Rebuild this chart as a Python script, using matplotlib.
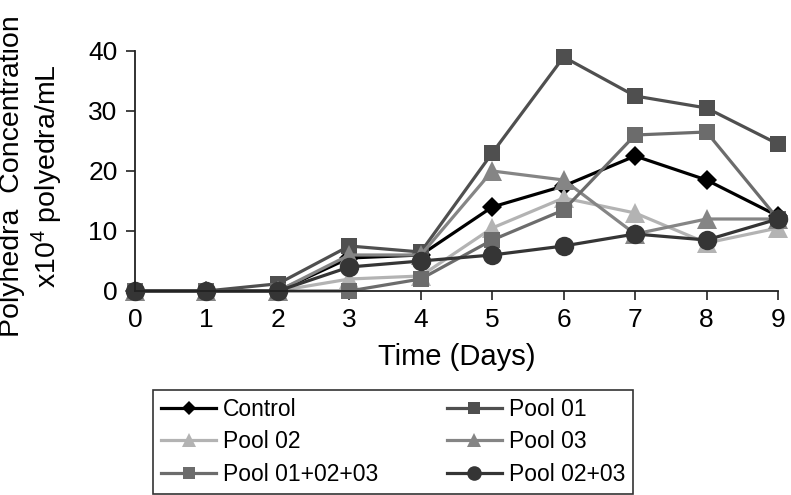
import matplotlib.pyplot as plt

plt.rcParams["font.family"] = ["Liberation Sans", "DejaVu Sans"]
plt.rcParams["mathtext.fontset"] = "custom"
plt.rcParams["mathtext.rm"] = "Liberation Sans"

days = [0, 1, 2, 3, 4, 5, 6, 7, 8, 9]

control = [0, 0, 0, 5.5, 6, 14, 17.5, 22.5, 18.5, 12.5]
pool_01 = [0, 0, 1.2, 7.5, 6.5, 23, 39, 32.5, 30.5, 24.5]
pool_02 = [0, 0, 0, 2, 2.5, 10.5, 15.5, 13, 8, 10.5]
pool_03 = [0, 0, 0, 6, 6, 20, 18.5, 9.5, 12, 12]
pool_all = [0, 0, 0, 0, 2, 8.5, 13.5, 26, 26.5, 12]
pool_02_03 = [0, 0, 0, 4, 5, 6, 7.5, 9.5, 8.5, 12]

series = [
    ("Control", control, "#000000", "D", 10),
    ("Pool 01", pool_01, "#4f4f4f", "s", 12),
    ("Pool 02", pool_02, "#b3b3b3", "^", 14),
    ("Pool 03", pool_03, "#858585", "^", 14),
    ("Pool 01+02+03", pool_all, "#6c6c6c", "s", 12),
    ("Pool 02+03", pool_02_03, "#353535", "o", 14),
]

fig = plt.figure(figsize=(7.91, 4.95), dpi=100)
ax = fig.add_axes([135 / 791, 1 - 291 / 495, 643 / 791, 240 / 495])

lines = []
for name, vals, col, mk, ms in series:
    ln, = ax.plot(days, vals, color=col, marker=mk, markersize=ms, linewidth=2.3,
                  markeredgewidth=0, label=name, clip_on=False)
    lines.append(ln)

ax.set_xlim(0, 9)
ax.set_ylim(0, 40)
ax.set_xticks(days)
ax.set_yticks([0, 10, 20, 30, 40])
ax.spines["top"].set_visible(False)
ax.spines["right"].set_visible(False)
for s in ("left", "bottom"):
    ax.spines[s].set_linewidth(1.3)
    ax.spines[s].set_color("#222222")
ax.tick_params(axis="both", direction="out", length=6.5, width=1.2,
               color="#222222", labelsize=19, pad=6)
ax.set_xlabel("Time (Days)", fontsize=21, labelpad=8)

fig.text(32 / 791, 1 - 176 / 495,
         "Polyhedra  Concentration\nx10$\\mathregular{^4}$ polyedra/mL",
         rotation=90, ha="center", va="center", fontsize=20.5,
         multialignment="center", linespacing=1.15)

# row-wise order like the original legend
order = [0, 2, 4, 1, 3, 5]
leg = fig.legend([lines[i] for i in order], [series[i][0] for i in order],
                 loc="lower left", bbox_to_anchor=(153 / 791, 1 / 495, 480 / 791, 99 / 495),
                 mode="expand", ncol=2, fontsize=16.5, frameon=True, fancybox=False,
                 borderaxespad=0, handlelength=2.4, handletextpad=0.3,
                 labelspacing=0.42, borderpad=0.35, markerscale=0.75)
leg.get_frame().set_edgecolor("black")
leg.get_frame().set_linewidth(1.2)

fig.savefig("out.png", dpi=100)
